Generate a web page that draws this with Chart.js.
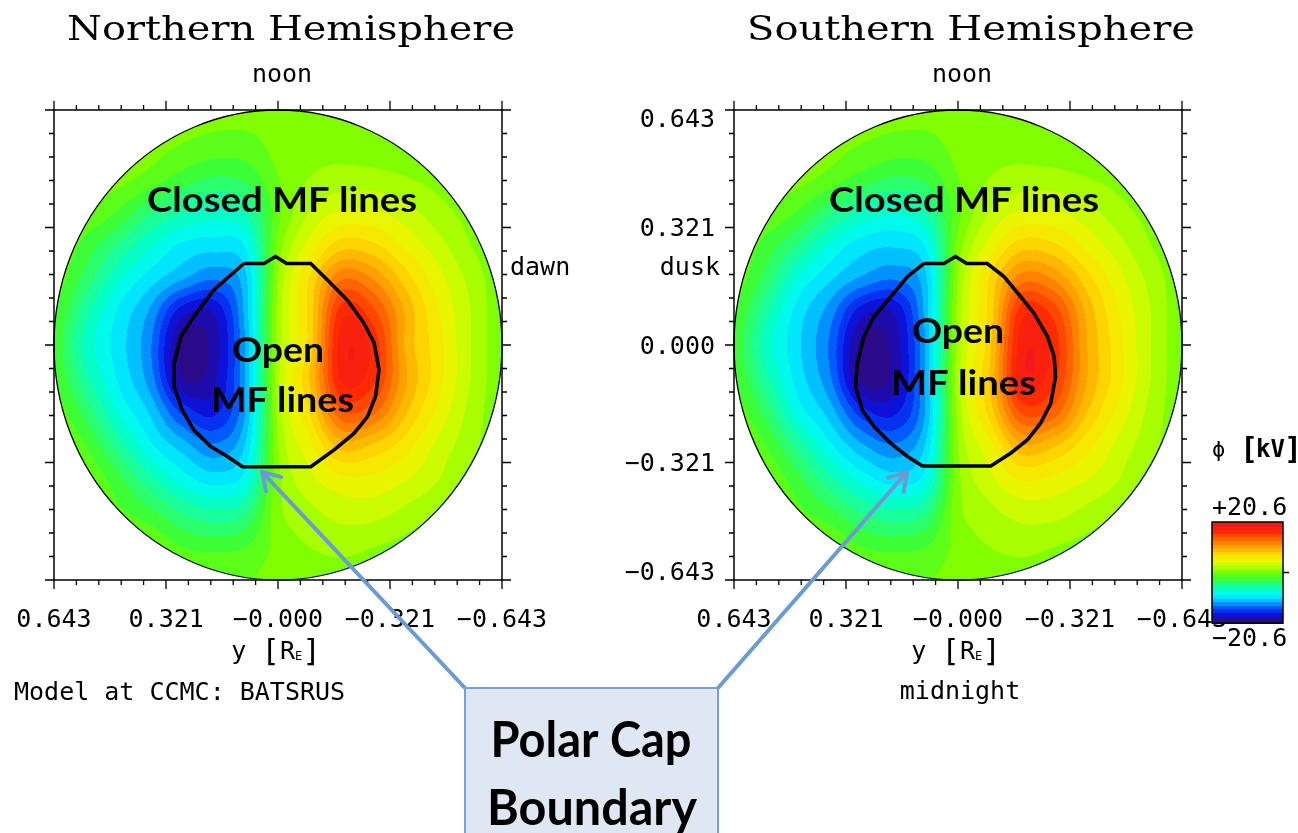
<!DOCTYPE html>
<html>
<head>
<meta charset="utf-8">
<script src="https://cdn.jsdelivr.net/npm/chart.js@4.4.1/dist/chart.umd.min.js"></script>
<style>
  html, body { margin: 0; padding: 0; background: #fff; }
  #page { position: relative; width: 1298px; height: 833px; overflow: hidden; background: #fff; }
  #page canvas { position: absolute; top: 0; }
</style>
</head>
<body>
<div id="page">
  <canvas id="north" width="620" height="833" style="left:0"></canvas>
  <canvas id="south" width="678" height="833" style="left:620px"></canvas>
  <canvas id="callout" width="1298" height="833" style="left:0;pointer-events:none"></canvas>
</div>
<script>
// axis range and ticks (both axes in R_E)
const R = 0.643;
const majorTicks = [0.643, 0.321, 0, -0.321, -0.643];
const horizLabels = ['0.643', '0.321', '\u22120.000', '\u22120.321', '\u22120.643'];
const vertLabels = ['0.643', '0.321', '0.000', '\u22120.321', '\u22120.643'];
const minorStep = 0.0643;

// potential colour scale [kV]
const phiMin = -20.6;
const phiMax = 20.6;

// potential on a 15x15 grid, step 0.643/7
// rows: x = +0.643 (noon) .. -0.643 ; columns: y = +0.643 .. -0.643
const gridStep = 0.643 / 7;
const northPotential = [
  [0.5, 0.5, 0.5, 0.5, 0.5, 0.5, 0.5, 0.5, 0.5, 0.5, 0.5, 0.5, 0.5, 0.5, 0.5],
  [0.5, 0.5, 0.5, 0.5, 0, -0.5, -0.5, 0.5, 1, 1, 0.5, 0.5, 0.5, 0.5, 0.5],
  [0.5, 0.5, 0.5, -0.5, -2, -3, -2.5, 0, 1.5, 2, 2, 1.5, 1, 0.5, 0.5],
  [0.5, 0, -1.5, -4, -5.5, -6.5, -5.5, -0.5, 3, 4.5, 4.5, 3.5, 2, 1, 0.5],
  [0, -2, -4.5, -7, -9, -9.5, -8.5, 0.5, 5, 8, 7.5, 5.5, 3.5, 1.5, 0.5],
  [-0.5, -3.5, -7, -9.5, -11.5, -13, -10.5, 1.5, 7.5, 13, 11.5, 8, 5, 2.5, 0.5],
  [-1.5, -5.5, -9, -12, -17, -17.5, -11, 2, 8, 17, 15, 10, 6, 3, 0.5],
  [-2, -6.5, -9.5, -13, -19.5, -18.5, -11.5, 2, 8, 18.5, 17, 10, 6.5, 3, 0.5],
  [-1.5, -5.5, -9, -12.5, -19, -18, -11.5, 2.5, 9, 18, 16.5, 10.5, 6.5, 3, 0.5],
  [-0.5, -3.5, -7.5, -10.5, -15, -16.5, -11.5, 2, 7.5, 14.5, 13.5, 9, 5.5, 2.5, 0.5],
  [0.5, -1.5, -5, -8.5, -11, -13, -10, 1.5, 5.5, 9.5, 8.5, 6.5, 4, 2, 0.5],
  [0.5, 0, -2.5, -5.5, -8, -9.5, -8, 1, 4, 5.5, 5.5, 4.5, 3, 1, 0.5],
  [0.5, 0.5, -1, -2.5, -4.5, -5.5, -4.5, 1, 2.5, 3.5, 3.5, 2.5, 1.5, 0.5, 0.5],
  [0.5, 0.5, 0.5, 0, -1.5, -2, -1.5, 0.5, 1.5, 2, 1.5, 1, 0.5, 0.5, 0.5],
  [0.5, 0.5, 0.5, 0.5, 0.5, 0.5, 0, 0.5, 0.5, 0.5, 0.5, 0.5, 0.5, 0.5, 0.5]
];
const southPotential = [
  [0.5, 0.5, 0.5, 0.5, 0.5, 0.5, 0.5, 0.5, 0.5, 0.5, 0.5, 0.5, 0.5, 0.5, 0.5],
  [0.5, 0.5, 0.5, 0.5, 0, -0.5, -0.5, 0.5, 1, 1, 0.5, 0.5, 0.5, 0.5, 0.5],
  [0.5, 0.5, 0.5, -0.5, -2, -3, -2.5, 0, 1.5, 2, 2, 1.5, 1, 0.5, 0.5],
  [0.5, 0, -1.5, -4, -6, -7, -5.5, -0.5, 3, 4.5, 4.5, 3.5, 2, 1, 0.5],
  [0, -2, -4.5, -7.5, -9.5, -10, -8.5, 0.5, 5, 8, 7.5, 5.5, 3.5, 1.5, 0.5],
  [-0.5, -3.5, -7.5, -10, -12, -13, -10.5, 1.5, 7.5, 12.5, 11.5, 8, 5, 2.5, 0.5],
  [-1.5, -5.5, -9.5, -12.5, -17, -17.5, -11, 2, 8, 17, 15.5, 10, 6, 3, 0.5],
  [-2, -6.5, -10, -13.5, -19.5, -18.5, -11.5, 2, 8.5, 18.5, 17, 10.5, 6.5, 3, 0.5],
  [-1.5, -5.5, -9.5, -13, -19.5, -18.5, -11.5, 2.5, 9, 18.5, 16.5, 10.5, 6.5, 3, 0.5],
  [-0.5, -3.5, -8, -11, -15.5, -16.5, -11.5, 2, 8, 15, 14, 9, 5.5, 2.5, 0.5],
  [0.5, -1.5, -5, -8.5, -11.5, -13, -10, 1.5, 5.5, 10, 9, 6.5, 4, 2, 0.5],
  [0.5, 0, -2.5, -5.5, -8, -9.5, -8, 1, 4, 6, 5.5, 4.5, 3, 1, 0.5],
  [0.5, 0.5, -1, -2.5, -4.5, -5.5, -4.5, 1, 2.5, 3.5, 3.5, 2.5, 1.5, 0.5, 0.5],
  [0.5, 0.5, 0.5, 0, -1.5, -2, -1.5, 0.5, 1.5, 2, 1.5, 1, 0.5, 0.5, 0.5],
  [0.5, 0.5, 0.5, 0.5, 0.5, 0.5, 0, 0.5, 0.5, 0.5, 0.5, 0.5, 0.5, 0.5, 0.5]
];

// polar cap boundary (y, x) in R_E
const northCapY = [0.098, 0.040, 0.007, -0.025, -0.094, -0.142, -0.199, -0.247, -0.276, -0.290, -0.280, -0.257, -0.218, -0.161, -0.094, 0.102, 0.145, 0.193, 0.241, 0.275, 0.298, 0.298, 0.279, 0.241, 0.184, 0.098];
const northCapX = [0.223, 0.223, 0.242, 0.223, 0.223, 0.178, 0.123, 0.059, 0.005, -0.068, -0.141, -0.196, -0.242, -0.287, -0.333, -0.333, -0.305, -0.278, -0.233, -0.178, -0.114, -0.050, 0.023, 0.078, 0.151, 0.223];
const southCapY = [0.098, 0.040, 0.007, -0.025, -0.084, -0.132, -0.180, -0.218, -0.257, -0.276, -0.280, -0.266, -0.237, -0.199, -0.151, -0.094, 0.102, 0.145, 0.193, 0.241, 0.275, 0.294, 0.289, 0.270, 0.241, 0.193, 0.145, 0.098];
const southCapX = [0.223, 0.223, 0.242, 0.223, 0.223, 0.187, 0.132, 0.087, 0.023, -0.032, -0.087, -0.160, -0.214, -0.260, -0.296, -0.331, -0.331, -0.305, -0.269, -0.223, -0.178, -0.114, -0.050, 0.023, 0.078, 0.132, 0.187, 0.223];

// IDL-like rainbow
const rampValues = [-20.6, -18.5, -16.5, -14, -11.5, -9, -7, -4.5, -2, 0.5, 3, 5.5, 8, 11, 14, 17, 20.6];
const rampColors = [
  [50, 10, 120], [30, 10, 170], [10, 20, 230], [0, 90, 255], [0, 180, 255], [0, 245, 255],
  [0, 255, 210], [32, 255, 136], [64, 255, 48], [120, 255, 0], [190, 255, 0], [240, 245, 0],
  [255, 215, 0], [255, 160, 0], [255, 100, 0], [255, 40, 0], [240, 20, 35]
];
const phiBands = 28;

function rampColor(v) {
  if (v <= rampValues[0]) return rampColors[0];
  for (let i = 1; i < rampValues.length; i++) {
    if (v <= rampValues[i]) {
      const t = (v - rampValues[i - 1]) / (rampValues[i] - rampValues[i - 1]);
      const a = rampColors[i - 1], b = rampColors[i];
      return [a[0] + (b[0] - a[0]) * t, a[1] + (b[1] - a[1]) * t, a[2] + (b[2] - a[2]) * t];
    }
  }
  return rampColors[rampColors.length - 1];
}

function bandColor(v) {
  let q = Math.floor((v - phiMin) / (phiMax - phiMin) * phiBands);
  q = Math.max(0, Math.min(phiBands - 1, q));
  return rampColor(phiMin + (q + 0.5) * (phiMax - phiMin) / phiBands);
}

// Catmull-Rom, kept inside the range of the surrounding cell corners
const cr = (p0, p1, p2, p3, t) => p1 + 0.5 * t * (p2 - p0 + t * (2 * p0 - 5 * p1 + 4 * p2 - p3 + t * (3 * (p1 - p2) + p3 - p0)));

function sampleGrid(grid, h, v) {
  const n = grid.length;
  const c = (R - h) / gridStep, r = (R - v) / gridStep;
  const c0 = Math.floor(c), r0 = Math.floor(r);
  const tc = c - c0, tr = r - r0;
  const get = (i, j) => grid[Math.min(n - 1, Math.max(0, j))][Math.min(n - 1, Math.max(0, i))];
  const rows = [];
  for (let k = -1; k <= 2; k++) {
    rows.push(cr(get(c0 - 1, r0 + k), get(c0, r0 + k), get(c0 + 1, r0 + k), get(c0 + 2, r0 + k), tc));
  }
  const corners = [get(c0, r0), get(c0 + 1, r0), get(c0, r0 + 1), get(c0 + 1, r0 + 1)];
  const lo = Math.min(...corners) - 1, hi = Math.max(...corners) + 1;
  const val = Math.max(lo, Math.min(hi, cr(rows[0], rows[1], rows[2], rows[3], tr)));
  return Math.max(phiMin, Math.min(phiMax, val));
}

function makeFieldPlugin(grid) {
  return {
    id: 'field',
    beforeDatasetsDraw(chart) {
      const {ctx, chartArea: a, scales: {x, y}} = chart;
      const w = Math.round(a.right - a.left), hgt = Math.round(a.bottom - a.top);
      const off = document.createElement('canvas');
      off.width = w;
      off.height = hgt;
      const octx = off.getContext('2d');
      const img = octx.createImageData(w, hgt);
      for (let py = 0; py < hgt; py++) {
        const v = y.getValueForPixel(a.top + py + 0.5);
        for (let px = 0; px < w; px++) {
          const h = x.getValueForPixel(a.left + px + 0.5);
          if (h * h + v * v > R * R) continue;
          const col = bandColor(sampleGrid(grid, h, v));
          const k = (py * w + px) * 4;
          img.data[k] = col[0];
          img.data[k + 1] = col[1];
          img.data[k + 2] = col[2];
          img.data[k + 3] = 255;
        }
      }
      octx.putImageData(img, 0, 0);
      ctx.drawImage(off, a.left, a.top);

      const cx = x.getPixelForValue(0), cy = y.getPixelForValue(0);
      ctx.save();
      ctx.beginPath();
      ctx.ellipse(cx, cy, Math.abs(x.getPixelForValue(R) - cx), Math.abs(y.getPixelForValue(R) - cy), 0, 0, Math.PI * 2);
      ctx.strokeStyle = '#000';
      ctx.lineWidth = 1.3;
      ctx.stroke();
      ctx.restore();
    }
  };
}

const idlFont = (s) => s + 'px "DejaVu Sans Mono", monospace';

function idlText(ctx, text, x, y, align, size) {
  ctx.font = idlFont(size || 25);
  ctx.textAlign = align || 'center';
  ctx.textBaseline = 'middle';
  ctx.fillStyle = '#000';
  ctx.fillText(text, x, y);
}

// text made of pieces with their own size / offset (brackets, subscripts)
function pieceText(ctx, pieces, cx, cy) {
  let total = 0;
  pieces.forEach(p => { ctx.font = idlFont(p.s); p.w = ctx.measureText(p.t).width; total += p.w; });
  let xx = cx - total / 2;
  ctx.textAlign = 'left';
  ctx.textBaseline = 'middle';
  ctx.fillStyle = '#000';
  pieces.forEach(p => {
    ctx.font = idlFont(p.s);
    ctx.fillText(p.t, xx, cy + (p.dy || 0));
    xx += p.w;
  });
}

const unitPieces = (letter) => [
  {t: letter + ' ', s: 25}, {t: '[', s: 31, dy: 1}, {t: 'R', s: 25}, {t: 'E', s: 12, dy: 5}, {t: ']', s: 31, dy: 1}
];

function fitText(ctx, text, cx, baseline, width, font) {
  ctx.save();
  ctx.font = font;
  ctx.textAlign = 'center';
  ctx.textBaseline = 'alphabetic';
  ctx.fillStyle = '#000';
  const w = ctx.measureText(text).width;
  ctx.translate(cx, baseline);
  ctx.scale(width / w, 1);
  ctx.fillText(text, 0, 0);
  ctx.restore();
}

function makeIdlPlugin(side) {
  return {
    id: 'idlAxes',
    afterDraw(chart) {
      const {ctx, chartArea: a, scales: {x, y}} = chart;
      const cx = x.getPixelForValue(0), cy = y.getPixelForValue(0);
      ctx.save();
      // frame and ticks
      ctx.strokeStyle = '#000';
      ctx.lineWidth = 1.5;
      ctx.strokeRect(a.left, a.top, a.right - a.left, a.bottom - a.top);
      ctx.lineWidth = 1.3;
      ctx.beginPath();
      for (let i = -10; i <= 10; i++) {
        const len = i % 5 === 0 ? 9 : 5;
        const px = x.getPixelForValue(i * minorStep), py = y.getPixelForValue(i * minorStep);
        ctx.moveTo(px, a.bottom); ctx.lineTo(px, a.bottom + len);
        ctx.moveTo(px, a.top); ctx.lineTo(px, a.top - len);
        ctx.moveTo(a.left, py); ctx.lineTo(a.left - len, py);
        ctx.moveTo(a.right, py); ctx.lineTo(a.right + len, py);
      }
      ctx.stroke();

      // bottom tick labels
      majorTicks.forEach((val, i) => idlText(ctx, horizLabels[i], x.getPixelForValue(val), a.bottom + 40));
      pieceText(ctx, unitPieces('y'), cx - 2, a.bottom + 72);

      // title
      const title = side === 'north' ? 'Northern Hemisphere' : 'Southern Hemisphere';
      fitText(ctx, title, cx + 13, a.top - 70, 448, '34px "DejaVu Serif", serif');
      idlText(ctx, 'noon', cx + 4, a.top - 35);

      if (side === 'north') {
        idlText(ctx, 'dawn', a.right + 8, a.top + 158, 'left');
        idlText(ctx, 'Model at CCMC: BATSRUS', a.left - 40, a.bottom + 113, 'left');
      } else {
        majorTicks.forEach((val, i) => {
          const py = Math.max(a.top + 10, Math.min(a.bottom - 7, y.getPixelForValue(val) + 2));
          idlText(ctx, vertLabels[i], a.left - 19, py, 'right');
        });
        idlText(ctx, 'dusk', a.left - 14, a.top + 158, 'right');
        idlText(ctx, 'midnight', cx + 2, a.bottom + 112);
        ctx.save();
        ctx.translate(a.left - 156, cy);
        ctx.rotate(-Math.PI / 2);
        pieceText(ctx, unitPieces('x'), 0, 0);
        ctx.restore();

        // colour bar
        const bx = a.right + 30, bw = 71, bt = a.top + 412, bh = 101;
        for (let q = 0; q < phiBands; q++) {
          const col = rampColor(phiMin + (q + 0.5) * (phiMax - phiMin) / phiBands);
          ctx.fillStyle = 'rgb(' + col.map(Math.round).join(',') + ')';
          const y0 = bt + bh - (q + 1) * bh / phiBands;
          ctx.fillRect(bx, Math.floor(y0), bw, Math.ceil(bh / phiBands) + 1);
        }
        ctx.strokeStyle = '#000';
        ctx.lineWidth = 1.5;
        ctx.strokeRect(bx, bt, bw, bh);
        ctx.beginPath();
        ctx.moveTo(bx + bw, bt + bh / 2);
        ctx.lineTo(bx + bw + 6, bt + bh / 2);
        ctx.stroke();
        idlText(ctx, '+' + phiMax.toFixed(1), bx, bt - 14, 'left');
        idlText(ctx, '\u2212' + Math.abs(phiMin).toFixed(1), bx, bt + bh + 16, 'left');
        ctx.font = idlFont(22);
        ctx.textAlign = 'left';
        ctx.fillText('\u03d5', bx, a.top + 341);
        ctx.font = 'bold ' + idlFont(30);
        ctx.fillText('[', bx + 28, a.top + 341);
        ctx.font = 'bold ' + idlFont(24);
        ctx.fillText('kV', bx + 44, a.top + 341);
        ctx.font = 'bold ' + idlFont(30);
        ctx.fillText(']', bx + 72, a.top + 341);
      }

      // annotations
      const ann = '700 35px Lato, "Open Sans", sans-serif';
      if (side === 'north') {
        fitText(ctx, 'Closed MF lines', cx + 4, cy - 133, 270, ann);
        fitText(ctx, 'Open', cx, cy + 17, 92, ann);
        fitText(ctx, 'MF lines', cx + 4.5, cy + 67, 143, ann);
      } else {
        fitText(ctx, 'Closed MF lines', cx + 6, cy - 133, 270, ann);
        fitText(ctx, 'Open', cx, cy - 2, 92, ann);
        fitText(ctx, 'MF lines', cx + 5.5, cy + 50, 145, ann);
      }
      ctx.restore();
    }
  };
}

function makeChart(id, grid, capY, capX, padding, side) {
  return new Chart(document.getElementById(id), {
    type: 'scatter',
    data: {
      datasets: [{
        data: capY.map((v, i) => ({x: v, y: capX[i]})),
        showLine: true,
        borderColor: '#000',
        borderWidth: 3.6,
        pointRadius: 0,
        tension: 0,
        fill: false
      }]
    },
    options: {
      responsive: false,
      animation: false,
      events: [],
      layout: {padding},
      plugins: {legend: {display: false}, tooltip: {enabled: false}},
      scales: {
        x: {type: 'linear', min: -R, max: R, reverse: true, display: false},
        y: {type: 'linear', min: -R, max: R, display: false}
      }
    },
    plugins: [makeFieldPlugin(grid), makeIdlPlugin(side)]
  });
}

const northChart = makeChart('north', northPotential, northCapY, northCapX, {left: 54, top: 110, right: 118, bottom: 253}, 'north');
const southChart = makeChart('south', southPotential, southCapY, southCapX, {left: 114, top: 110, right: 116, bottom: 253}, 'south');

// callout box with arrows to the polar cap boundaries
(function drawCallout() {
  const ctx = document.getElementById('callout').getContext('2d');
  const tips = [
    {x: northChart.scales.x.getPixelForValue(0.046), y: northChart.scales.y.getPixelForValue(-0.347)},
    {x: 620 + southChart.scales.x.getPixelForValue(0.146), y: southChart.scales.y.getPixelForValue(-0.347)}
  ];
  const box = {left: 465, top: 688, right: 718, bottom: 840};
  const starts = [{x: box.left, y: box.top}, {x: box.right, y: box.top}];
  ctx.strokeStyle = '#6b9bd3';
  ctx.lineWidth = 4;
  ctx.lineCap = 'round';
  ctx.lineJoin = 'round';
  tips.forEach((t, i) => {
    const s = starts[i];
    ctx.beginPath();
    ctx.moveTo(s.x, s.y);
    ctx.lineTo(t.x, t.y);
    const ang = Math.atan2(s.y - t.y, s.x - t.x);
    const L = 20;
    ctx.moveTo(t.x + L * Math.cos(ang + 0.55), t.y + L * Math.sin(ang + 0.55));
    ctx.lineTo(t.x, t.y);
    ctx.lineTo(t.x + L * Math.cos(ang - 0.55), t.y + L * Math.sin(ang - 0.55));
    ctx.stroke();
  });
  ctx.fillStyle = '#dfe7f2';
  ctx.fillRect(box.left, box.top, box.right - box.left, box.bottom - box.top);
  ctx.strokeStyle = '#7aa0cf';
  ctx.lineWidth = 2;
  ctx.strokeRect(box.left, box.top, box.right - box.left, box.bottom - box.top);
  fitText(ctx, 'Polar Cap', 591, 757, 201, '700 50px Lato, "Open Sans", sans-serif');
  fitText(ctx, 'Boundary', 592, 825, 210, '700 50px Lato, "Open Sans", sans-serif');
})();
</script>
</body>
</html>
